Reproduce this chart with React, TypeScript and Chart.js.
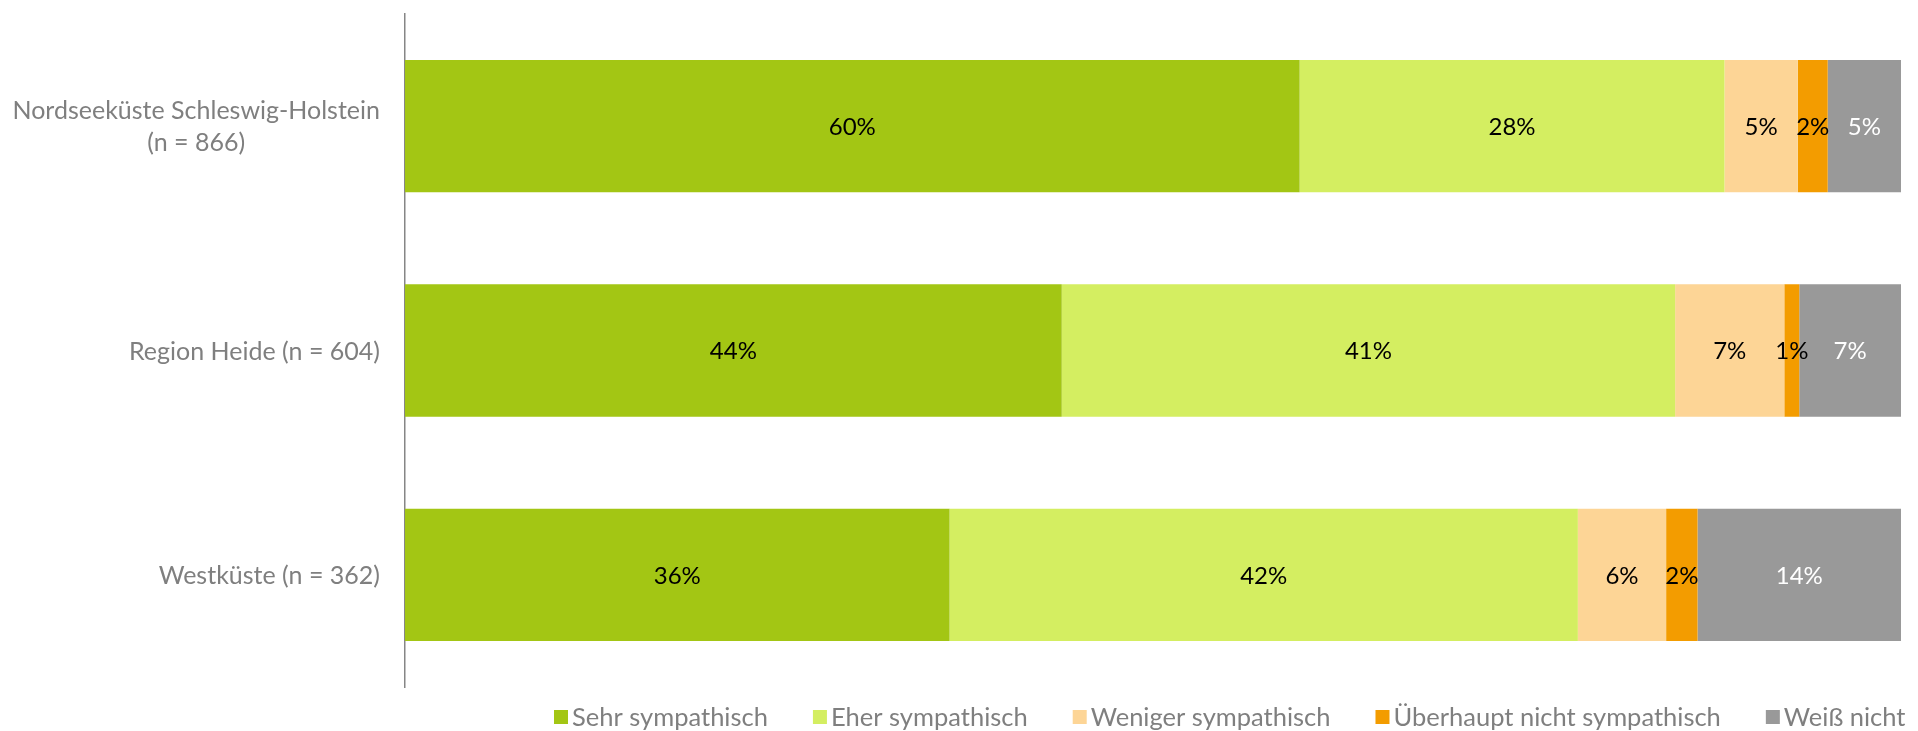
import React, { useEffect, useRef } from "react";
import { Chart, registerables } from "chart.js";

Chart.register(...registerables);

const categories: (string | string[])[] = [
  ["Nordseeküste Schleswig-Holstein", "(n = 866)"],
  "Region Heide (n = 604)",
  "Westküste (n = 362)",
];

const seriesNames = [
  "Sehr sympathisch",
  "Eher sympathisch",
  "Weniger sympathisch",
  "Überhaupt nicht sympathisch",
  "Weiß nicht",
];

const sehr = [59.8, 43.9, 36.4];
const eher = [28.4, 41.0, 42.0];
const weniger = [4.9, 7.3, 5.9];
const ueberhaupt = [2.0, 1.0, 2.1];
const weissNicht = [4.9, 6.8, 13.6];

const colors = ["#A3C614", "#D4EE61", "#FDD596", "#F39C00", "#999999"];
const labelColors = ["#000000", "#000000", "#000000", "#000000", "#FFFFFF"];

const FONT = "Lato, 'Noto Sans', sans-serif";
const TEXT_GRAY = "#7F7F7F";

const yLabelPlugin = {
  id: "yLabels",
  afterDraw(chart: any) {
    const scale = chart.scales.y;
    const ctx = chart.ctx;
    ctx.save();
    ctx.font = `25px ${FONT}`;
    ctx.fillStyle = TEXT_GRAY;
    ctx.textAlign = "center";
    ctx.textBaseline = "middle";
    const lh = 32;
    const rightEdge = chart.chartArea.left - 25;
    categories.forEach((lab, i) => {
      const lines = Array.isArray(lab) ? lab : [lab];
      const widest = Math.max(...lines.map((l) => ctx.measureText(l).width));
      const cx = rightEdge - widest / 2;
      const cy = scale.getPixelForTick(i) + 1;
      const start = cy - ((lines.length - 1) * lh) / 2;
      lines.forEach((l, j) => ctx.fillText(l, cx, start + j * lh));
    });
    ctx.restore();
  },
};

const dataLabelPlugin = {
  id: "segLabels",
  afterDatasetsDraw(chart: any) {
    const ctx = chart.ctx;
    ctx.save();
    ctx.font = `24px ${FONT}`;
    ctx.textAlign = "center";
    ctx.textBaseline = "middle";
    chart.data.datasets.forEach((ds: any, di: number) => {
      const meta = chart.getDatasetMeta(di);
      meta.data.forEach((el: any, i: number) => {
        const v = ds.data[i];
        const x = (el.x + el.base) / 2;
        ctx.fillStyle = labelColors[di];
        ctx.fillText(`${Math.round(v)}%`, x, el.y + 1);
      });
    });
    ctx.restore();
  },
};

const legendPlugin = {
  id: "customLegend",
  afterDraw(chart: any) {
    const ctx = chart.ctx;
    ctx.save();
    ctx.font = `25.5px ${FONT}`;
    ctx.textBaseline = "middle";
    ctx.textAlign = "left";
    const y = 717;
    const box = 14;
    let x = 554;
    chart.data.datasets.forEach((ds: any) => {
      ctx.fillStyle = ds.backgroundColor;
      ctx.fillRect(x, y - box / 2, box, box);
      x += box + 4;
      ctx.fillStyle = TEXT_GRAY;
      ctx.fillText(ds.label, x, y + 1);
      x += ctx.measureText(ds.label).width + 45;
    });
    ctx.restore();
  },
};

export default function App() {
  const ref = useRef<HTMLCanvasElement>(null);
  useEffect(() => {
    if (!ref.current) return;
    const values = [sehr, eher, weniger, ueberhaupt, weissNicht];
    const chart = new Chart(ref.current, {
      type: "bar",
      data: {
        labels: categories as any,
        datasets: seriesNames.map((name, i) => ({
          label: name,
          data: values[i],
          backgroundColor: colors[i],
          borderWidth: 0,
          categoryPercentage: 1,
          barPercentage: 0.59,
        })),
      },
      options: {
        indexAxis: "y",
        animation: false,
        responsive: true,
        maintainAspectRatio: false,
        layout: { padding: { left: 0, right: 17, top: 14, bottom: 44 } },
        plugins: {
          legend: { display: false },
          tooltip: { enabled: false },
        },
        scales: {
          x: {
            stacked: true,
            min: 0,
            max: 100,
            display: false,
          },
          y: {
            stacked: true,
            grid: { display: false },
            ticks: { display: false },
            border: { display: true, color: "#868686", width: 1.5 },
            afterFit: (scale: any) => {
              scale.width = 405;
            },
          },
        },
      },
      plugins: [yLabelPlugin, dataLabelPlugin, legendPlugin],
    });
    return () => chart.destroy();
  }, []);
  return (
    <div style={{ position: "absolute", left: 0, top: 0, width: 1918, height: 731, background: "#fff" }}>
      <canvas ref={ref} />
    </div>
  );
}
